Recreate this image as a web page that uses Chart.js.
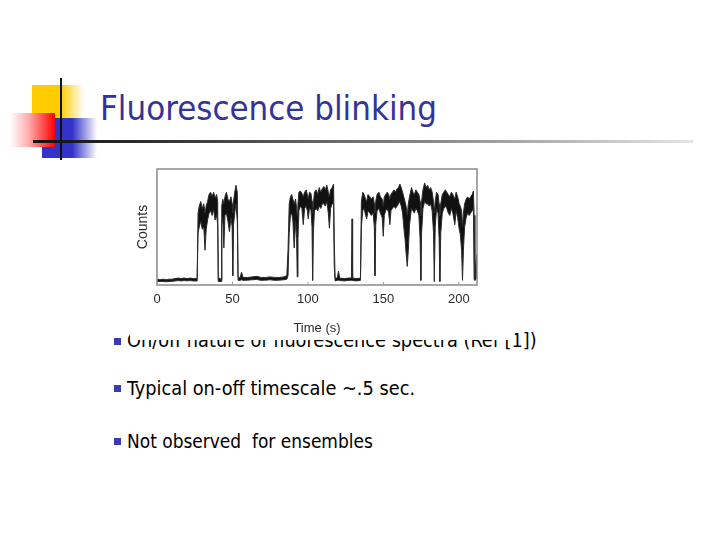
<!DOCTYPE html>
<html>
<head>
<meta charset="utf-8">
<script src="https://cdn.jsdelivr.net/npm/chart.js@4/dist/chart.umd.min.js"></script>
<style>
  html, body { margin:0; padding:0; background:#fff; }
  #slide { position:relative; width:720px; height:540px; overflow:hidden; background:#fff; }
  .abs { position:absolute; }
  .txt { position:absolute; white-space:pre; font-family:'DejaVu Sans Condensed','DejaVu Sans',sans-serif; font-stretch:condensed; color:#000; line-height:1; }
  .bul { position:absolute; width:7px; height:7px; background:#3a3ab8; }
  #chartBox { position:absolute; left:130px; top:160px; width:385px; height:180px; background:#fff; }
</style>
</head>
<body>
<div id="slide">
  <div class="abs" style="left:32px;top:85px;width:52px;height:33px;background:linear-gradient(to right,#ffcc00 55%,#fff 100%);"></div>
  <div class="abs" style="left:42px;top:118px;width:55px;height:40px;background:linear-gradient(to right,#3333cc 55%,#fff 100%);"></div>
  <div class="abs" style="left:10px;top:113px;width:45px;height:34px;background:linear-gradient(to right,#fff 0%,#ffb0b0 40%,#ff0000 100%);"></div>
  <div class="abs" style="left:60px;top:78px;width:2px;height:82px;background:#111;"></div>
  <div class="abs" style="left:33px;top:140px;width:660px;height:3px;background:linear-gradient(to right,#111 0%,#333 20%,#888 60%,#e6e6e6 100%);"></div>
  <div id="title" class="txt" style="left:100px;top:91px;color:#333399;" data-w="337">Fluorescence blinking</div>

  <div class="bul" style="left:114px;top:338px;"></div>
  <div id="b1" class="txt" style="left:127px;top:331px;" data-w="410">On/off nature of fluorescence spectra (Ref [1])</div>
  <div class="bul" style="left:114px;top:385px;"></div>
  <div id="b2" class="txt" style="left:127px;top:379px;" data-w="288">Typical on-off timescale ~.5 sec.</div>
  <div class="bul" style="left:114px;top:438px;"></div>
  <div id="b3" class="txt" style="left:127px;top:432px;" data-w="246">Not observed  for ensembles</div>

  <div id="chartBox"><canvas id="c" width="385" height="180"></canvas></div>
</div>
<script>
// ---- data (time in s, counts in arbitrary units) ----
const times = [0,2,4,6,8,10,12,14,16,18,20,22,24,26.6,27.2,28,29,30,31,31.8,32.6,33.5,34.5,35.5,36.5,37.5,38.5,39.5,40.2,40.6,41.2,42.4,42.9,43.6,44.3,45,46,47,48,49,49.8,50.2,50.7,51.5,52.3,53.2,53.7,55,56,57,60,63,66,69,72,75,78,81,84,86,86.8,87.6,88.4,89.2,90,90.9,91.8,92.5,92.9,93.4,94,95,96,96.9,97.8,98.8,99.6,100.2,101,102,102.7,103.1,103.6,104.3,105.5,106.5,107.5,108.5,109.5,110.5,111.5,112.5,113.5,114.2,115,116,117,117.4,118,119.5,120.2,121,124,127,128.8,129.2,129.6,132,134.8,135.4,136.3,137.2,138.2,138.9,139.8,141,142,143.2,144,144.4,144.9,145.8,147,148,149.2,149.9,150.6,151.5,152.5,153.5,154.3,155,156,157,158,159,160,160.9,161.8,162.7,163.5,164.3,165,165.8,166.5,167.3,168.6,169.5,170.5,171.5,172.5,173.5,174.3,174.8,175.3,176.2,177.3,178.3,179.3,180.3,181.3,182.3,183.2,183.7,184.3,185.2,186.2,186.9,187.4,188,189,190,191,192,193,194,195,196,197.3,198.2,199.2,200.2,200.9,201.8,202.4,203,203.8,204.8,205.8,206.8,207.8,208.8,209.6,210.1,210.6,211.2,212];
const upperCounts = [5,4.5,5,4.5,5,5,5.5,6,5.5,6,5.5,6,5.5,5.5,62,68,72,66,70,62,68,72,78,80,76,80,75,78,72,5,6,5,68,74,70,76,80,74,72,76,70,62,72,80,86,80,7,6,11,6.5,6.5,7,7.5,6.5,6.5,7,6.5,6.5,7,8,30,70,76,78,74,70,74,66,60,70,80,81,79,76,80,82,78,74,80,79,72,62,70,80,82,78,84,80,83,85,82,86,80,76,82,84,87,40,6,6,12,6,5.5,6,6,57,6,5.5,6,72,80,78,74,72,78,76,74,76,70,62,72,78,80,76,74,68,76,78,80,78,74,78,80,82,80,83,84,87,84,80,76,72,68,60,70,76,84,80,78,82,80,78,72,60,72,82,88,84,86,82,84,80,72,62,72,80,78,70,60,70,78,80,82,80,78,76,80,78,74,80,76,70,68,64,50,62,70,74,76,74,76,78,81,60,6,18,27];
const lowerCounts = [3,3,3,2.8,3,3.2,3.5,3.8,3.5,3.8,3.6,3.8,3.5,3.5,45,50,55,48,50,30,48,56,62,64,60,65,56,60,52,3,3,3,52,58,32,60,62,55,46,58,50,8,52,62,70,55,4,4,4.5,4,4.2,4.5,4.8,4,4.2,4.5,4,4.2,4.5,5,8,45,60,62,56,32,55,40,7,40,64,68,66,52,66,68,64,57,66,65,50,4,45,64,66,64,68,66,70,70,68,72,62,49,66,70,70,17,3.5,4,4,4,3.5,4,4,4,4,3.5,4,50,64,66,60,57,64,62,60,62,50,8,52,64,66,62,58,42,60,64,66,62,52,64,66,68,66,68,70,72,68,62,50,40,28,16,30,52,66,64,62,66,64,60,40,4,45,66,72,70,70,68,70,64,45,3,50,66,62,40,3,45,62,66,68,66,62,60,66,62,52,64,58,48,44,30,4,30,50,58,62,60,62,64,66,5,4,5,8];
const xTickValues = [0,50,100,150,200];
const xAxisLabel = 'Time (s)';
const yAxisLabel = 'Counts';

// fit slide text widths
(function fit(){
  const cv = document.createElement('canvas').getContext('2d');
  document.querySelectorAll('.txt[data-w]').forEach(el => {
    const fam = getComputedStyle(el).fontFamily;
    cv.font = 'condensed 100px ' + fam;
    const w = cv.measureText(el.textContent).width;
    el.style.fontSize = (100 * (+el.dataset.w) / w).toFixed(2) + 'px';
  });
})();

const upperPts = times.map((t,i) => ({x:t, y:upperCounts[i]}));
const lowerPts = times.map((t,i) => ({x:t, y:lowerCounts[i]}));

const framePlugin = {
  id:'frame',
  afterDatasetsDraw(chart){
    const {ctx, chartArea:a, scales} = chart;
    ctx.save();
    ctx.strokeStyle = '#8a8a8a';
    ctx.lineWidth = 1.5;
    ctx.strokeRect(a.left, a.top, a.right - a.left, a.bottom - a.top);
    ctx.lineWidth = 1;
    ctx.strokeStyle = '#999';
    scales.x.ticks.forEach(t => {
      const x = scales.x.getPixelForValue(t.value);
      ctx.beginPath(); ctx.moveTo(x, a.bottom); ctx.lineTo(x, a.bottom - 3); ctx.stroke();
    });
    ctx.restore();
  }
};

new Chart(document.getElementById('c'), {
  type:'line',
  data:{ datasets:[
    { label:'upper', data:upperPts, borderColor:'#2a2a2a', borderWidth:1, pointRadius:0, fill:false, tension:0 },
    { label:'lower', data:lowerPts, borderColor:'#2a2a2a', borderWidth:1, pointRadius:0, fill:'-1', backgroundColor:'#111', tension:0 }
  ]},
  options:{
    responsive:false, animation:false, events:[],
    layout:{ padding:{ top:9, right:38, left:0, bottom:0 } },
    plugins:{ legend:{display:false}, tooltip:{enabled:false} },
    scales:{
      x:{ type:'linear', min:0, max:212,
          afterFit(s){ s.height = 55; },
          grid:{ display:false, drawTicks:false }, border:{ display:false },
          afterBuildTicks(s){ s.ticks = xTickValues.map(v => ({value:v})); },
          ticks:{ padding:7, maxRotation:0, color:'#2a2a2a', font:{ family:'Liberation Sans', size:13 } },
          title:{ display:true, text:xAxisLabel, color:'#2a2a2a', font:{ family:'Liberation Sans', size:13 }, padding:{ top:0, bottom:4 } } },
      y:{ type:'linear', min:0, max:100,
          afterFit(s){ s.width = 27; },
          grid:{ display:false, drawTicks:false }, border:{ display:false },
          ticks:{ display:false },
          title:{ display:true, text:yAxisLabel, color:'#2a2a2a', font:{ family:'Liberation Sans', size:14 }, padding:{ top:5, bottom:0 } } }
    }
  },
  plugins:[framePlugin]
});
</script>
</body>
</html>
